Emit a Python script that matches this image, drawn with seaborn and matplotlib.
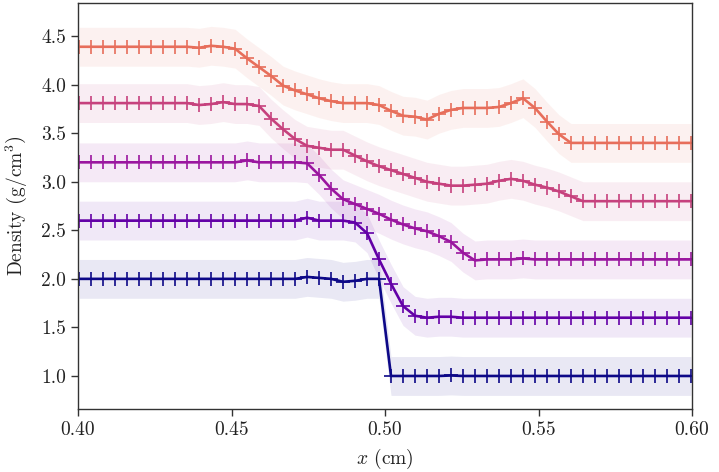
import numpy as np
import pandas as pd
import matplotlib
matplotlib.use("Agg")
import matplotlib.pyplot as plt
import seaborn as sns

# cell-centred grid (dx = 1/256)
cells = np.arange(102, 154)
x = (cells + 0.5) / 256.0

rho_t0 = [2.0] * 19 + [2.02, 2.01, 2.0, 1.97, 1.98, 2.0, 2.0] + [1.0] * 5 + [1.005] + [1.0] * 20
rho_t1 = [2.6] * 19 + [2.63, 2.6, 2.6, 2.6, 2.58, 2.47, 2.2, 1.95, 1.72, 1.62, 1.6,
                      1.61, 1.61, 1.6] + [1.6] * 19
rho_t2 = ([3.2] * 14 + [3.22, 3.2, 3.2, 3.2, 3.2, 3.19, 3.07, 2.93, 2.82, 2.77, 2.72,
                        2.67, 2.61, 2.56, 2.52, 2.49, 2.44, 2.38, 2.27, 2.19, 2.2, 2.2,
                        2.2, 2.21] + [2.2] * 14)
rho_t3 = ([3.81] * 10 + [3.79, 3.8, 3.82, 3.8, 3.8, 3.78, 3.65, 3.54, 3.44, 3.37, 3.35,
                         3.33, 3.33, 3.27, 3.21, 3.16, 3.12, 3.08, 3.04, 3.0, 2.98, 2.96,
                         2.96, 2.97, 2.98, 3.01, 3.03, 3.01, 2.97, 2.94, 2.9, 2.85, 2.8]
          + [2.8] * 9)
rho_t4 = ([4.39] * 10 + [4.38, 4.40, 4.39, 4.37, 4.27, 4.18, 4.09, 3.99, 3.94, 3.90, 3.86,
                         3.83, 3.81, 3.81, 3.81, 3.79, 3.73, 3.68, 3.67, 3.64, 3.70, 3.74,
                         3.76, 3.76, 3.76, 3.77, 3.81, 3.86, 3.76, 3.62, 3.49, 3.40]
          + [3.4] * 10)

series = [rho_t0, rho_t1, rho_t2, rho_t3, rho_t4]
names = ["t0", "t1", "t2", "t3", "t4"]
band_halfwidth = 0.2

xticks = [0.40, 0.45, 0.50, 0.55, 0.60]
yticks = [1.0, 1.5, 2.0, 2.5, 3.0, 3.5, 4.0, 4.5]

sns.set_style("ticks")
plt.rcParams["font.family"] = ["serif"]
plt.rcParams["font.serif"] = ["cmr10", "DejaVu Serif"]
plt.rcParams["mathtext.fontset"] = "cm"
plt.rcParams["axes.formatter.use_mathtext"] = True
plt.rcParams["axes.unicode_minus"] = False

cmap = plt.get_cmap("plasma")
colors = [cmap(v) for v in [0.0, 0.18, 0.33, 0.48, 0.63]]

fig = plt.figure(figsize=(7.19, 4.72), dpi=100)
ax = fig.add_axes([0.1085, 0.1335, 0.854, 0.86])

for name, rho, c in zip(names, series, colors):
    rho = np.asarray(rho, dtype=float)
    df = pd.DataFrame({"x": x, "density": rho})
    ax.fill_between(x, rho - band_halfwidth, rho + band_halfwidth,
                    color=c, alpha=0.09, linewidth=0)
    sns.lineplot(data=df, x="x", y="density", ax=ax, color=c, linewidth=1.9,
                 marker="+", markersize=9.5, markeredgewidth=1.2,
                 markeredgecolor=c, estimator=None, sort=False, legend=False)

ax.set_xlim(0.40, 0.60)
ax.set_ylim(0.66, 4.84)
ax.set_xticks(xticks)
ax.set_xticklabels([f"{t:.2f}" for t in xticks])
ax.set_yticks(yticks)
ax.set_yticklabels([f"{t:.1f}" for t in yticks])
ax.tick_params(axis="both", direction="out", length=5, width=1.0,
               labelsize=14, colors="#333333", labelcolor="#222222",
               top=False, right=False)
for sp in ax.spines.values():
    sp.set_visible(True)
    sp.set_color("#333333")
    sp.set_linewidth(1.0)

ax.set_xlabel(r"$x$ (cm)", fontsize=14, color="#222222", labelpad=6)
ax.set_ylabel(r"Density $\left(\mathrm{g/cm^3}\right)$", fontsize=14,
              color="#222222", labelpad=8)

fig.savefig("out.png", dpi=100)
